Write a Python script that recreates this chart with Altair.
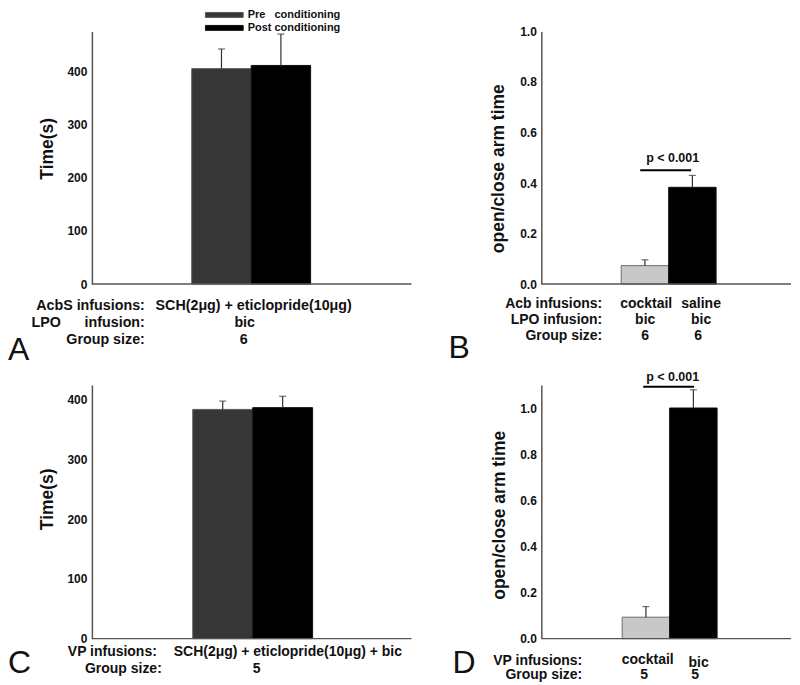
import altair as alt
import pandas as pd

FONT = "Liberation Sans"
NB = "\u00a0"

# ---------------- data ----------------
periods = ["Pre" + NB * 3 + "conditioning", "Post conditioning"]
a_means = [405, 411]
a_sems = [37, 59]
c_means = [384, 387]
c_sems = [14, 19]

b_groups = ["cocktail", "saline"]
b_means = [0.073, 0.383]
b_sems = [0.023, 0.047]
d_groups = ["cocktail", "bic"]
d_means = [0.093, 1.0]
d_sems = [0.046, 0.079]

time_ticks = [0, 100, 200, 300, 400]
ratio_ticks = [0.0, 0.2, 0.4, 0.6, 0.8, 1.0]

a_row_heads = ["AcbS infusions:", "LPO" + NB * 6 + "infusion:", "Group size:"]
a_row_vals = ["SCH(2μg) + eticlopride(10μg)", "bic", "6"]
b_row_heads = ["Acb infusions:", "LPO infusion:", "Group size:"]
b_row_col1 = ["cocktail", "bic", "6"]
b_row_col2 = ["saline", "bic", "6"]
c_row_heads = ["VP infusions:", "Group size:"]
c_row_vals = ["SCH(2μg) + eticlopride(10μg) + bic", "5"]
d_row_heads = ["VP infusions:", "Group size:"]
d_row_col1 = ["cocktail", "5"]
d_row_col2 = ["bic", "5"]
sig_label = "p < 0.001"
panel_letters = ["A", "B", "C", "D"]

AXIS_COLOR = "#555555"
TEXT_COLOR = "#111111"


def text_layer(s, x, y, align="left", size=14, weight="bold"):
    return alt.Chart(pd.DataFrame({"t": [s]})).mark_text(
        align=align, baseline="alphabetic", font=FONT, fontSize=size,
        fontWeight=weight, color=TEXT_COLOR
    ).encode(x=alt.value(x), y=alt.value(y), text="t:N")


def sig_layers(x1, x2, y_line, x_text, y_text):
    line = alt.Chart(pd.DataFrame({"t": [sig_label]})).mark_rule(
        color="#000000", strokeWidth=2
    ).encode(x=alt.value(x1), x2=alt.value(x2), y=alt.value(y_line))
    txt = text_layer(sig_label, x_text, y_text, align="center", size=12.5)
    return [line, txt]


def panel(cats, means, sems, fills, strokes, ydom, yticks, yfmt, ytitle,
          tx, ty, w, h, xrange, legend=None, extra=()):
    df = pd.DataFrame({"cat": cats, "mean": means, "sem": sems})
    xenc = alt.X(
        "cat:N", sort=cats,
        scale=alt.Scale(domain=cats, paddingInner=0, paddingOuter=0, range=xrange),
        axis=None,
    )
    yaxis = alt.Axis(
        values=yticks, format=yfmt, ticks=False, tickSize=0, grid=False,
        labelFont=FONT, labelFontSize=12, labelFontWeight="bold",
        labelColor=TEXT_COLOR, labelPadding=5,
        domainColor=AXIS_COLOR, domainWidth=1.5,
        title=ytitle, titleFont=FONT, titleFontSize=17.5, titleFontWeight="bold",
        titleColor=TEXT_COLOR, titleX=tx, titleY=ty, titleAngle=270,
        titleAlign="center", titleBaseline="middle",
    )
    yscale = alt.Scale(domain=ydom, nice=False, zero=True)
    base = alt.Chart(df)
    baseline = alt.Chart(pd.DataFrame({"t": [0]})).mark_rule(
        color=AXIS_COLOR, strokeWidth=1.5
    ).encode(x=alt.value(0), x2=alt.value(w), y=alt.value(h))
    bars = base.mark_bar(strokeWidth=1).encode(
        x=xenc,
        y=alt.Y("mean:Q", scale=yscale, axis=yaxis),
        color=alt.Color("cat:N", scale=alt.Scale(domain=cats, range=fills), legend=legend),
        stroke=alt.Stroke("cat:N", scale=alt.Scale(domain=cats, range=strokes), legend=None),
    )
    errs = base.transform_calculate(top="datum.mean + datum.sem")
    rule = errs.mark_rule(color="#333333", strokeWidth=1.2).encode(
        x=alt.X("cat:N", sort=cats), y=alt.Y("mean:Q"), y2="top:Q"
    )
    cap = errs.mark_tick(color="#333333", thickness=1.2, size=7, orient="horizontal").encode(
        x=alt.X("cat:N", sort=cats), y=alt.Y("top:Q")
    )
    return alt.layer(bars, rule, cap, baseline, *extra).properties(width=w, height=h)


legend_a = alt.Legend(
    orient="none", legendX=113, legendY=-23, title=None,
    symbolType="M-1,-0.13H1V0.13H-1Z", symbolSize=1444, clipHeight=13,
    rowPadding=0, padding=0, labelFont=FONT, labelFontSize=11,
    labelFontWeight="bold", labelColor=TEXT_COLOR, labelOffset=4,
    symbolStrokeColor="#555555", symbolStrokeWidth=1, symbolOpacity=1,
)

# ---- Panel A (plot top at page y 31) ----
a_extra = [
    text_layer(a_row_heads[0], 53, 279, align="right", size=14.3),
    text_layer(a_row_heads[1], 53, 296, align="right", size=14.3),
    text_layer(a_row_heads[2], 53, 312.5, align="right", size=14.3),
    text_layer(a_row_vals[0], 162, 279, align="center", size=14.3),
    text_layer(a_row_vals[1], 153, 296, align="center", size=14.3),
    text_layer(a_row_vals[2], 152, 312.5, align="center", size=14.3),
    text_layer(panel_letters[0], -84, 329, size=32, weight="normal"),
]
panel_a = panel(periods, a_means, a_sems, ["#363636", "#000000"], ["#5a5a5a", "#111111"],
                [0, 475], time_ticks, "d", "Time(s)", -44, 117, 320, 253, [100, 219],
                legend=legend_a, extra=a_extra)

# ---- Panel B ----
b_extra = sig_layers(99, 150, 139, 131.5, 131) + [
    text_layer(b_row_heads[0], 61, 277, align="right"),
    text_layer(b_row_heads[1], 61, 293, align="right"),
    text_layer(b_row_heads[2], 61, 309, align="right"),
    text_layer(b_row_col1[0], 105, 277, align="center"),
    text_layer(b_row_col1[1], 104, 293, align="center"),
    text_layer(b_row_col1[2], 104, 309, align="center"),
    text_layer(b_row_col2[0], 160, 277, align="center"),
    text_layer(b_row_col2[1], 160, 293, align="center"),
    text_layer(b_row_col2[2], 157, 309, align="center"),
    text_layer(panel_letters[1], -93, 327, size=32, weight="normal"),
]
panel_b = panel(b_groups, b_means, b_sems, ["#c8c8c8", "#000000"], ["#6a6a6a", "#111111"],
                [0, 1.0], ratio_ticks, ".1f", "open/close arm time", -42.5, 137, 250, 253,
                [80, 175], extra=b_extra)

# ---- Panel C (plot top at page y 385) ----
c_extra = [
    text_layer(c_row_heads[0], 65, 271, align="right"),
    text_layer(c_row_heads[1], 70, 288, align="right"),
    text_layer(c_row_vals[0], 82, 271, align="left"),
    text_layer(c_row_vals[1], 165, 288, align="center"),
    text_layer(panel_letters[2], -84, 288, size=32, weight="normal"),
]
panel_c = panel(periods, c_means, c_sems, ["#363636", "#000000"], ["#5a5a5a", "#111111"],
                [0, 425], time_ticks, "d", "Time(s)", -44, 114, 320, 254, [101, 221],
                legend=None, extra=c_extra)

# ---- Panel D ----
d_extra = sig_layers(102, 153, 1.7, 131.5, -4) + [
    text_layer(d_row_heads[0], 41, 280, align="right"),
    text_layer(d_row_heads[1], 41, 294, align="right"),
    text_layer(d_row_col1[0], 106.5, 279, align="center"),
    text_layer(d_row_col1[1], 103, 294, align="center"),
    text_layer(d_row_col2[0], 157.5, 282, align="center"),
    text_layer(d_row_col2[1], 154, 294, align="center"),
    text_layer(panel_letters[3], -89, 288, size=32, weight="normal"),
]
panel_d = panel(d_groups, d_means, d_sems, ["#c8c8c8", "#000000"], ["#6a6a6a", "#111111"],
                [0, 1.1], ratio_ticks, ".1f", "open/close arm time", -42, 130, 250, 254,
                [81, 176], extra=d_extra)

chart = alt.concat(
    panel_a, panel_b, panel_c, panel_d,
    columns=2, spacing={"row": 101, "column": 130}, bounds="flush",
).resolve_scale(
    color="independent", stroke="independent"
).resolve_legend(
    color="independent", stroke="independent"
).configure_view(stroke=None).properties(
    padding={"left": 0, "top": 0, "right": 0, "bottom": 0}, background="white"
)

chart.save("out.html", embed_options={"renderer": "svg", "actions": False})
